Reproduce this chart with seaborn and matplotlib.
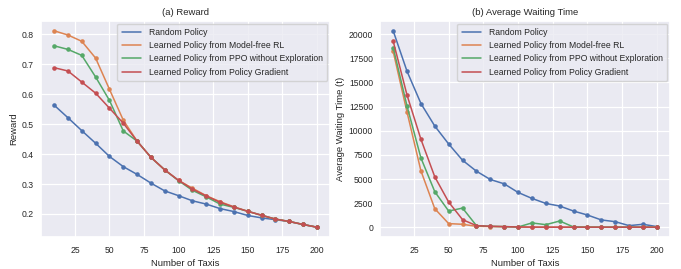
import numpy as np
import pandas as pd
import seaborn as sns
import matplotlib
matplotlib.use("Agg")
import matplotlib.pyplot as plt

taxis = list(range(10, 201, 10))
series_names = ["Random Policy", "Learned Policy from Model-free RL",
                "Learned Policy from PPO without Exploration", "Learned Policy from Policy Gradient"]

reward_random = [0.563, 0.521, 0.478, 0.436, 0.392, 0.358, 0.332, 0.303, 0.277, 0.261,
                 0.244, 0.233, 0.218, 0.208, 0.195, 0.187, 0.181, 0.175, 0.165, 0.156]
reward_mfrl = [0.811, 0.797, 0.776, 0.720, 0.616, 0.513, 0.443, 0.389, 0.347, 0.312,
               0.286, 0.261, 0.241, 0.224, 0.209, 0.195, 0.183, 0.175, 0.165, 0.156]
reward_ppo = [0.761, 0.749, 0.729, 0.657, 0.579, 0.477, 0.443, 0.389, 0.347, 0.311,
              0.279, 0.257, 0.233, 0.222, 0.209, 0.196, 0.183, 0.175, 0.165, 0.156]
reward_pg = [0.688, 0.677, 0.640, 0.603, 0.553, 0.503, 0.443, 0.389, 0.347, 0.312,
             0.283, 0.260, 0.239, 0.223, 0.209, 0.196, 0.183, 0.175, 0.165, 0.156]

wait_random = [20350, 16150, 12820, 10480, 8625, 6940, 5810, 4950, 4500, 3610,
               2990, 2470, 2200, 1680, 1270, 760, 580, 170, 310, 70]
wait_mfrl = [18210, 11920, 5840, 1920, 380, 310, 100, 80, 60, 30,
             20, 15, 10, 10, 10, 10, 10, 10, 10, 10]
wait_ppo = [18620, 12540, 7180, 3680, 1680, 1990, 170, 100, 70, 30,
            450, 270, 650, 30, 15, 10, 10, 10, 10, 10]
wait_pg = [19280, 13680, 9110, 5220, 2610, 790, 170, 100, 70, 30,
           15, 10, 10, 10, 10, 10, 10, 10, 10, 10]

def make_df(vals):
    rows = []
    for name, v in zip(series_names, vals):
        for x, y in zip(taxis, v):
            rows.append({"Number of Taxis": x, "value": y, "Policy": name})
    return pd.DataFrame(rows)

df_r = make_df([reward_random, reward_mfrl, reward_ppo, reward_pg])
df_w = make_df([wait_random, wait_mfrl, wait_ppo, wait_pg])

sns.set_theme(style="darkgrid")
plt.rcParams['font.family'] = ['Liberation Sans', 'DejaVu Sans']

fig = plt.figure(figsize=(6.81, 2.69), dpi=100)
ax1 = fig.add_axes([41/681, 1-237/269, 289/681, 216/269])
ax2 = fig.add_axes([380/681, 1-237/269, 290/681, 216/269])

palette = sns.color_palette("deep", 4)
for ax, df, title, ylabel in [(ax1, df_r, "(a) Reward", "Reward"),
                              (ax2, df_w, "(b) Average Waiting Time", "Average Waiting Time (t)")]:
    sns.lineplot(data=df, x="Number of Taxis", y="value", hue="Policy", palette=palette,
                 marker="o", markersize=3.3, markeredgewidth=0, linewidth=1.1, ax=ax)
    ax.set_title(title, fontsize=6.8, pad=4)
    ax.set_ylabel(ylabel, fontsize=6.8, labelpad=3)
    ax.set_xlabel("Number of Taxis", fontsize=6.8, labelpad=2.5)
    ax.tick_params(axis="x", labelsize=6.2, pad=6.5, length=0)
    ax.tick_params(axis="y", labelsize=6.2, pad=5, length=0)
    ax.set_xticks([25, 50, 75, 100, 125, 150, 175, 200])
    ax.grid(linewidth=0.9)
    leg = ax.legend(loc="upper right", fontsize=6.2, title=None, handlelength=2.3,
                    borderpad=0.5, labelspacing=0.5, borderaxespad=0.3, handletextpad=0.9)
    for line in leg.get_lines():
        line.set_marker("")
        line.set_linewidth(1.1)
    ax.margins(x=0.05, y=0.05)

ax1.set_yticks([0.2, 0.3, 0.4, 0.5, 0.6, 0.7, 0.8])
ax2.set_yticks([0, 2500, 5000, 7500, 10000, 12500, 15000, 17500, 20000])

fig.savefig("out.png", dpi=100)
